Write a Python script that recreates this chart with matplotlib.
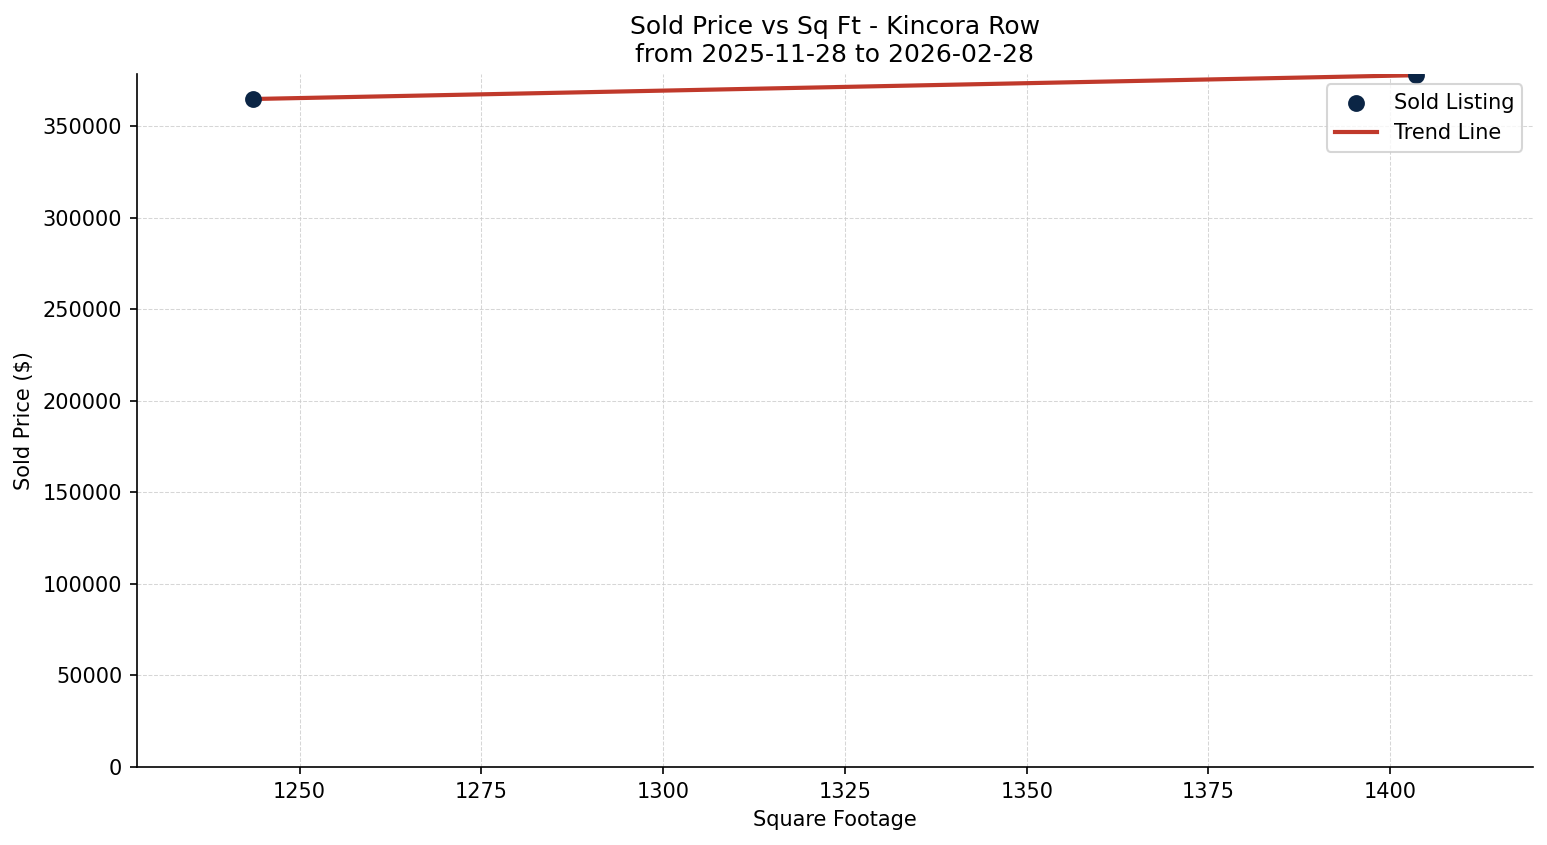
import numpy as np
import matplotlib
matplotlib.use("Agg")
import matplotlib.pyplot as plt

# sold listings
sqft = [1243.6, 1403.6]
price = [365000, 378000]
area_name = "Kincora Row"
date_from = "2025-11-28"
date_to = "2026-02-28"

dpi = 150
fig, ax = plt.subplots(figsize=(1547 / dpi, 845 / dpi), dpi=dpi)
fig.subplots_adjust(left=0.0884, right=0.9908, top=0.9124, bottom=0.0923)

ax.scatter(sqft, price, s=50, color="#0b2545", label="Sold Listing", zorder=3)

# linear trend
coef = np.polyfit(sqft, price, 1)
xs = np.array(sorted(sqft))
ax.plot(xs, np.polyval(coef, xs), color="#c0392b", linewidth=2, label="Trend Line", zorder=2)

ax.margins(x=0.1)
ax.set_ylim(bottom=0)
ax.set_title("Sold Price vs Sq Ft - %s\nfrom %s to %s" % (area_name, date_from, date_to), fontsize=12)
ax.set_xlabel("Square Footage")
ax.set_ylabel("Sold Price ($)")
ax.grid(True, linestyle="--", linewidth=0.5, color="#cccccc", alpha=0.8)
ax.spines["top"].set_visible(False)
ax.spines["right"].set_visible(False)
ax.legend(loc="upper right")

fig.savefig("out.png", dpi=dpi)
